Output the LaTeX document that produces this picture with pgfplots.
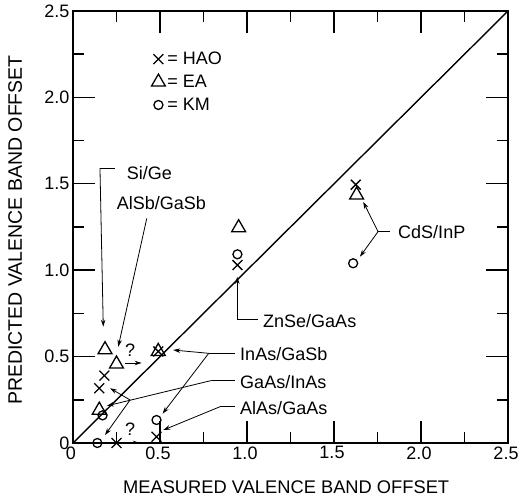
\documentclass[border=0pt]{standalone}
\usepackage{fontspec}
\setmainfont{Liberation Sans}
\usepackage{pgfplots}
\pgfplotsset{compat=1.18}
\usetikzlibrary{arrows.meta}

\tikzset{
  lead/.style={line width=0.8pt},
  arr/.style={line width=0.8pt, -{Stealth[length=7pt,width=4.5pt]}},
  lbl/.style={anchor=west, inner sep=0pt, font=\fontsize{18}{20}\selectfont},
}

\begin{document}
\begin{tikzpicture}
\useasboundingbox (0pt,0pt) rectangle (519pt,498pt);
\begin{axis}[
  at={(73pt,55pt)}, anchor=south west,
  scale only axis, width=435pt, height=432pt,
  xmin=0, xmax=2.5, ymin=0, ymax=2.5,
  xtick={0,0.5,1,1.5,2,2.5}, ytick={0,0.5,1,1.5,2,2.5},
  xticklabels={{0\hspace{8pt}},0.5,1.0,1.5,2.0,2.5},
  yticklabels={{0\hspace{7pt}},0.5,1.0,1.5,2.0,2.5},
  minor xtick={0.25,0.75,1.25,1.75,2.25},
  minor ytick={0.25,0.75,1.25,1.75,2.25},
  axis on top,
  major tick length=22pt, minor tick length=11pt,
  every major tick/.append style={black, line width=1.4pt},
  every minor tick/.append style={black, line width=1.4pt},
  axis line style={line width=1.4pt},
  ticklabel style={font=\fontsize{18}{20}\selectfont},
  xticklabel style={xshift=-2pt},
  xlabel={MEASURED VALENCE BAND OFFSET},
  ylabel={PREDICTED VALENCE BAND OFFSET},
  xlabel style={font=\fontsize{18.3}{20}\selectfont, at={(axis description cs:0.49,-0.102)}, anchor=center},
  ylabel style={font=\fontsize{19.5}{22}\selectfont, at={(axis description cs:-0.133,0.493)}, anchor=center},
  legend style={draw=none, fill=none, at={(axis cs:0.45,2.275)}, anchor=north west,
    font=\fontsize{18}{20}\selectfont, row sep=5pt, inner sep=0pt},
  legend cell align=left,
  legend image code/.code={\draw[#1] plot coordinates {(0.2cm,0cm)};},
]
% y = x
\addplot[black, line width=1.4pt, forget plot] coordinates {(0,0) (2.5,2.5)};

% HAO
\addplot[only marks, black, mark=x, mark size=7pt, line width=1.3pt] coordinates {
  (1.625,1.495) (0.945,1.03) (0.49,0.53) (0.18,0.39) (0.151,0.317) (0.48,0.036) (0.25,0)
};
% EA
\addplot[only marks, black, mark=triangle, mark size=8pt, line width=1.3pt] coordinates {
  (1.63,1.435) (0.952,1.246) (0.49,0.53) (0.184,0.54) (0.25,0.457) (0.151,0.19)
};
% KM
\addplot[only marks, black, mark=o, mark size=4.5pt, line width=1.3pt] coordinates {
  (1.61,1.04) (0.945,1.092) (0.48,0.133) (0.17,0.16) (0.14,0)
};
\legend{= HAO, = EA, = KM}

% labels and leaders
\node[lbl] at (0.308,1.56) {Si/Ge};
\draw[lead] (0.241,1.59) -- (0.155,1.59);
\draw[arr] (0.155,1.59) -- (0.174,0.673);

\node[lbl] at (0.251,1.387) {AlSb/GaSb};
\draw[arr] (0.424,1.30) -- (0.26,0.557);

\node[lbl] at (1.868,1.223) {CdS/InP};
\draw[lead] (1.822,1.223) -- (1.753,1.223);
\draw[arr] (1.753,1.223) -- (1.668,1.396);
\draw[arr] (1.753,1.223) -- (1.649,1.078);

\node[lbl] at (1.092,0.705) {ZnSe/GaAs};
\draw[lead] (1.063,0.713) -- (0.944,0.713);
\draw[arr] (0.944,0.713) -- (0.944,0.962);

\node[lbl] at (0.96,0.515) {InAs/GaSb};
\draw[lead] (0.93,0.519) -- (0.78,0.519);
\draw[arr] (0.78,0.519) -- (0.576,0.538);
\draw[arr] (0.78,0.519) -- (0.515,0.17);

\node[lbl] at (0.96,0.355) {GaAs/InAs};
\draw[lead] (0.93,0.362) -- (0.797,0.362);
\draw[arr] (0.797,0.362) -- (0.195,0.215);
\draw[arr] (0.328,0.249) -- (0.213,0.317);
\draw[arr] (0.328,0.249) -- (0.184,0.046);

\node[lbl] at (0.96,0.2) {AlAs/GaAs};
\draw[lead] (0.93,0.21) -- (0.845,0.21);
\draw[arr] (0.845,0.21) -- (0.519,0.075);

\node[font=\fontsize{18}{20}\selectfont, inner sep=0pt] at (0.328,0.538) {?};
\draw[arr] (0.30,0.463) -- (0.394,0.463);
\node[font=\fontsize{18}{20}\selectfont, inner sep=0pt] at (0.328,0.078) {?};
\draw[arr] (0.30,0) -- (0.385,0);
\end{axis}
\end{tikzpicture}
\end{document}
